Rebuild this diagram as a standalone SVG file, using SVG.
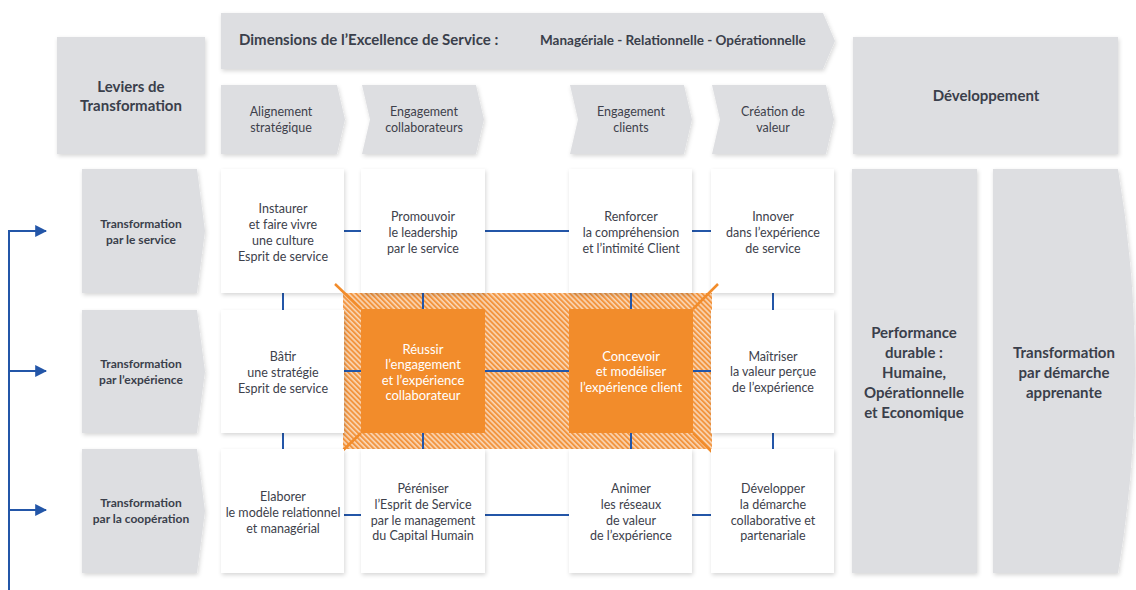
<svg xmlns="http://www.w3.org/2000/svg" width="1136" height="590" viewBox="0 0 1136 590">
<defs>
<filter id="sh" x="-10%" y="-10%" width="130%" height="130%"><feDropShadow dx="1" dy="2" stdDeviation="2" flood-color="#000" flood-opacity="0.16"/></filter>
<pattern id="hatch" width="3.6" height="3.6" patternUnits="userSpaceOnUse" patternTransform="rotate(-45)"><rect width="3.6" height="3.6" fill="#fad7b6"/><rect width="2" height="3.6" fill="#f29540"/></pattern>
<marker id="arr" viewBox="0 0 10 10" refX="9" refY="5" markerWidth="6" markerHeight="6" markerUnits="strokeWidth" orient="auto"><path d="M0,0 L10,5 L0,10 Z" fill="#2356a8"/></marker>
<style>
.g{fill:#dddee1;filter:url(#sh)}
.w{fill:#fff;filter:url(#sh)}
.o{fill:#f28c2b}
.t{font-family:Lato,"Liberation Sans",sans-serif;font-size:12.5px;fill:#3d414b;text-anchor:middle}
.b{font-family:Lato,"Liberation Sans",sans-serif;font-weight:bold;fill:#3a3f4b;text-anchor:middle}
.ow{font-family:Lato,"Liberation Sans",sans-serif;font-size:13px;fill:#fff;text-anchor:middle}
.bl{stroke:#2356a8;stroke-width:2;fill:none}
.ol{stroke:#f28c2b;stroke-width:2.5;fill:none}
</style>
</defs>
<rect width="1136" height="590" fill="#fff"/>

<!-- header -->
<g id="leviers"><rect class="g" x="57" y="37" width="148" height="117"/>
<text class="b" font-size="15"><tspan x="131" y="92">Leviers de</tspan><tspan x="131" y="111">Transformation</tspan></text></g>
<g id="dimensions"><path class="g" d="M221,13 H823 L835,41 L823,69 H221 Z"/>
<text class="b" font-size="15" x="239" y="45" style="text-anchor:start">Dimensions de l’Excellence de Service :</text>
<text class="b" font-size="13.5" x="540" y="45" style="text-anchor:start">Managériale - Relationnelle - Opérationnelle</text></g>
<g id="developpement"><rect class="g" x="853" y="37" width="265" height="117"/>
<text class="b" font-size="15" x="986" y="101">Développement</text></g>

<g id="h-alignement"><path class="g" d="M221,85 H337 L345,119.5 L337,154 H221 Z"/>
<text class="t"><tspan x="281" y="116">Alignement</tspan><tspan x="281" y="132">stratégique</tspan></text></g>
<g id="h-engcollab"><path class="g" d="M362,85 H476 L484,119.5 L476,154 H362 L370,119.5 Z"/>
<text class="t"><tspan x="424" y="116">Engagement</tspan><tspan x="424" y="132">collaborateurs</tspan></text></g>
<g id="h-engclients"><path class="g" d="M570,85 H684 L692,119.5 L684,154 H570 L578,119.5 Z"/>
<text class="t"><tspan x="631" y="116">Engagement</tspan><tspan x="631" y="132">clients</tspan></text></g>
<g id="h-creation"><path class="g" d="M712,85 H826 L834,119.5 L826,154 H712 L720,119.5 Z"/>
<text class="t"><tspan x="773" y="116">Création de</tspan><tspan x="773" y="132">valeur</tspan></text></g>

<!-- row headers -->
<g id="r-service"><path class="g" d="M82,169 H197 L205,231 L197,293 H82 Z"/>
<text class="b" font-size="12"><tspan x="141" y="228">Transformation</tspan><tspan x="141" y="244">par le service</tspan></text></g>
<g id="r-experience"><path class="g" d="M82,310 H197 L205,371.5 L197,433 H82 Z"/>
<text class="b" font-size="12"><tspan x="141" y="368">Transformation</tspan><tspan x="141" y="384">par l’expérience</tspan></text></g>
<g id="r-cooperation"><path class="g" d="M82,449 H197 L205,511 L197,573 H82 Z"/>
<text class="b" font-size="12"><tspan x="141" y="507">Transformation</tspan><tspan x="141" y="523">par la coopération</tspan></text></g>

<!-- hatched area -->
<rect x="343" y="293" width="369" height="156" fill="url(#hatch)"/>

<!-- connectors -->
<g id="connectors">
<path class="bl" d="M9,590 V231"/>
<path class="bl" d="M8,231 H46" marker-end="url(#arr)"/>
<path class="bl" d="M9,371 H46" marker-end="url(#arr)"/>
<path class="bl" d="M9,510 H46" marker-end="url(#arr)"/>
<path class="bl" d="M344,231 H361 M485,231 H569 M692,231 H711 M344,371 H361 M485,371 H569 M692,371 H711 M344,515 H361 M485,515 H569 M692,515 H711"/>
<path class="bl" d="M283,293 V310 M283,433 V449 M423,293 V310 M423,433 V449 M631,293 V310 M631,433 V449 M773,293 V310 M773,433 V449"/>
</g>

<!-- row 1 -->
<g id="n-instaurer"><rect class="w" x="221" y="169" width="123" height="124"/>
<text class="t"><tspan x="283" y="212.5">Instaurer</tspan><tspan x="283" y="228.5">et faire vivre</tspan><tspan x="283" y="244.5">une culture</tspan><tspan x="283" y="260.5">Esprit de service</tspan></text></g>
<g id="n-promouvoir"><rect class="w" x="361" y="169" width="124" height="124"/>
<text class="t"><tspan x="423" y="221">Promouvoir</tspan><tspan x="423" y="237">le leadership</tspan><tspan x="423" y="253">par le service</tspan></text></g>
<g id="n-renforcer"><rect class="w" x="569" y="169" width="123" height="124"/>
<text class="t"><tspan x="631" y="221">Renforcer</tspan><tspan x="631" y="237">la compréhension</tspan><tspan x="631" y="253">et l’intimité Client</tspan></text></g>
<g id="n-innover"><rect class="w" x="711" y="169" width="123" height="124"/>
<text class="t"><tspan x="773" y="221">Innover</tspan><tspan x="773" y="237">dans l’expérience</tspan><tspan x="773" y="253">de service</tspan></text></g>

<!-- row 2 -->
<g id="n-batir"><rect class="w" x="221" y="310" width="123" height="123"/>
<text class="t"><tspan x="283" y="360.5">Bâtir</tspan><tspan x="283" y="376.5">une stratégie</tspan><tspan x="283" y="392.5">Esprit de service</tspan></text></g>
<g id="n-reussir"><rect class="o" x="361" y="309" width="124" height="124"/>
<text class="ow"><tspan x="423" y="353.5">Réussir</tspan><tspan x="423" y="369">l’engagement</tspan><tspan x="423" y="384.5">et l’expérience</tspan><tspan x="423" y="400">collaborateur</tspan></text></g>
<g id="n-concevoir"><rect class="o" x="569" y="309" width="124" height="124"/>
<text class="ow"><tspan x="631" y="360.5">Concevoir</tspan><tspan x="631" y="376">et modéliser</tspan><tspan x="631" y="391.5">l’expérience client</tspan></text></g>
<g id="n-maitriser"><rect class="w" x="711" y="310" width="123" height="123"/>
<text class="t"><tspan x="773" y="360.5">Maîtriser</tspan><tspan x="773" y="376">la valeur perçue</tspan><tspan x="773" y="391.5">de l’expérience</tspan></text></g>

<!-- orange frame diagonals -->
<path class="ol" d="M335,284 L361,309 M718,284 L693,309 M335,458 L361,433 M718,458 L693,433"/>

<!-- row 3 -->
<g id="n-elaborer"><rect class="w" x="221" y="449" width="123" height="124"/>
<text class="t"><tspan x="283" y="500.5">Elaborer</tspan><tspan x="283" y="516.5">le modèle relationnel</tspan><tspan x="283" y="532.5">et managérial</tspan></text></g>
<g id="n-pereniser"><rect class="w" x="361" y="449" width="124" height="124"/>
<text class="t"><tspan x="423" y="492.5">Péréniser</tspan><tspan x="423" y="508.5">l’Esprit de Service</tspan><tspan x="423" y="524.5">par le management</tspan><tspan x="423" y="540">du Capital Humain</tspan></text></g>
<g id="n-animer"><rect class="w" x="569" y="449" width="123" height="124"/>
<text class="t"><tspan x="631" y="492.5">Animer</tspan><tspan x="631" y="508.5">les réseaux</tspan><tspan x="631" y="524.5">de valeur</tspan><tspan x="631" y="540">de l’expérience</tspan></text></g>
<g id="n-developper"><rect class="w" x="711" y="449" width="123" height="124"/>
<text class="t"><tspan x="773" y="492.5">Développer</tspan><tspan x="773" y="508.5">la démarche</tspan><tspan x="773" y="524.5">collaborative et</tspan><tspan x="773" y="540">partenariale</tspan></text></g>

<!-- right columns -->
<g id="performance"><rect class="g" x="852" y="169" width="125" height="404"/>
<text class="b" font-size="15"><tspan x="914" y="338">Performance</tspan><tspan x="914" y="358">durable :</tspan><tspan x="914" y="378">Humaine,</tspan><tspan x="914" y="398">Opérationnelle</tspan><tspan x="914" y="418">et Economique</tspan></text></g>
<g id="demarche"><path class="g" d="M993,169 H1118 Q1152,371 1118,573 H993 Z"/>
<text class="b" font-size="15"><tspan x="1064" y="358">Transformation</tspan><tspan x="1064" y="378">par démarche</tspan><tspan x="1064" y="398">apprenante</tspan></text></g>
</svg>
